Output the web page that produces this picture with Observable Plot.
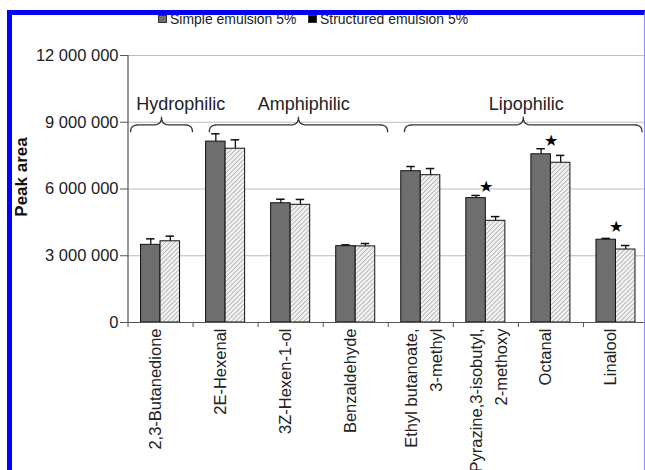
<!DOCTYPE html>
<html>
<head>
<meta charset="utf-8">
<script src="https://cdn.jsdelivr.net/npm/d3@7"></script>
<script src="https://cdn.jsdelivr.net/npm/@observablehq/plot@0.6"></script>
<style>
  html, body { margin: 0; padding: 0; background: #fff; overflow: hidden; }
  #wrap { position: relative; width: 645px; height: 470px; overflow: hidden; font-family: "Liberation Sans", Arial, sans-serif; }
  #legend { position: absolute; top: 10px; left: 0; width: 645px; height: 17px; font-size: 15px; line-height: 17px; color: #222; }
  #legend .sw { position: absolute; top: 5px; width: 9px; height: 8px; }
  #legend .lb { position: absolute; top: 0; white-space: nowrap; transform-origin: 0 0; transform: scaleX(0.93); }
  #frame { position: absolute; left: 7px; top: 10px; width: 632px; height: 480px;
           border-left: 5px solid #0000ff; border-top: 5px solid #0000ff; border-right: 1px solid #8a8aff; }
</style>
</head>
<body>
<div id="wrap">
  <div id="chart"></div>
  <div id="legend"></div>
  <div id="frame"></div>
</div>
<script>
// ---- data ----
const categories = ["2,3-Butanedione", "2E-Hexenal", "3Z-Hexen-1-ol", "Benzaldehyde",
                    "Ethyl butanoate,\n3-methyl", "Pyrazine,3-isobutyl,\n2-methoxy", "Octanal", "Linalool"];
const simpleValues     = [3.49e6, 8.13e6, 5.36e6, 3.43e6, 6.80e6, 5.59e6, 7.56e6, 3.72e6];
const simpleErrors     = [0.27e6, 0.35e6, 0.18e6, 0.06e6, 0.21e6, 0.12e6, 0.25e6, 0.06e6];
const structuredValues = [3.65e6, 7.81e6, 5.29e6, 3.42e6, 6.62e6, 4.57e6, 7.18e6, 3.28e6];
const structuredErrors = [0.23e6, 0.40e6, 0.24e6, 0.13e6, 0.30e6, 0.19e6, 0.33e6, 0.18e6];
const seriesNames = ["Simple emulsion 5%", "Structured emulsion 5%"];
const yTicks = [0, 3e6, 6e6, 9e6, 12e6];
const starCategories = [5, 6, 7];
const starValues = [6.08e6, 8.15e6, 4.28e6];
const groupLabels = ["Hydrophilic", "Amphiphilic", "Lipophilic"];
const groupStart = [0.04, 1.25, 4.25];
const groupEnd = [0.99, 3.99, 7.90];
const groupLabelX = [0.81, 2.70, 6.12];

// ---- layout ----
const W = 645, H = 470;
const xRange = [127.5, 648];
const yRange = [322, 55];
const half = 0.3;            // bar width in category units
const capHalf = 0.065;
const braceLine = 8.88e6, braceTip = 9.23e6, braceEnd = 8.58e6, braceR = 0.12;
const labelY = 9.8e6;

const rows = [];
categories.forEach((c, i) => {
  rows.push({i, s: 0, x1: i + 0.5 - half, x2: i + 0.5, v: simpleValues[i], e: simpleErrors[i]});
  rows.push({i, s: 1, x1: i + 0.5, x2: i + 0.5 + half, v: structuredValues[i], e: structuredErrors[i]});
});
rows.forEach(r => { r.xc = (r.x1 + r.x2) / 2; r.top = r.v + r.e; });

const catRows = categories.map((c, i) => ({c, x: i + 0.5, multi: c.includes("\n")}));

// braces
const bracePts = [];
groupLabels.forEach((g, k) => {
  const x0 = groupStart[k], x1 = groupEnd[k], xm = (x0 + x1) / 2;
  const quad = (p0, c, p1) => {
    for (let j = 0; j <= 10; j++) {
      const t = j / 10;
      bracePts.push({g, x: (1-t)*(1-t)*p0[0] + 2*(1-t)*t*c[0] + t*t*p1[0],
                        y: (1-t)*(1-t)*p0[1] + 2*(1-t)*t*c[1] + t*t*p1[1]});
    }
  };
  quad([x0, braceEnd], [x0, braceLine], [x0 + braceR, braceLine]);
  quad([xm - braceR, braceLine], [xm, braceLine], [xm, braceTip]);
  quad([xm, braceTip], [xm, braceLine], [xm + braceR, braceLine]);
  quad([x1 - braceR, braceLine], [x1, braceLine], [x1, braceEnd]);
});

const font = "Liberation Sans, Arial, sans-serif";
const axisColor = "#555";
const labelStyle = {x: "x", text: "c", frameAnchor: "bottom", dy: 6, rotate: -90, textAnchor: "end",
                    fontSize: 16.5, lineHeight: 1.5, fill: "#222"};

const chart = Plot.plot({
  width: W, height: H,
  marginLeft: 128, marginRight: 0, marginTop: 55, marginBottom: 148,
  style: {fontFamily: font, background: "transparent", color: "#222"},
  x: {type: "linear", domain: [0, 8], range: xRange, axis: null},
  y: {domain: [0, 12e6], range: yRange, axis: null},
  marks: [
    Plot.gridY(yTicks, {stroke: "#bdbdbd", strokeOpacity: 1, strokeWidth: 1}),
    Plot.rectY(rows.filter(r => r.s === 0), {x1: "x1", x2: "x2", y1: 0, y2: "v", fill: "#6e6e6e", stroke: "#111", strokeWidth: 1}),
    Plot.rectY(rows.filter(r => r.s === 1), {x1: "x1", x2: "x2", y1: 0, y2: "v", fill: "url(#hatch)", stroke: "#111", strokeWidth: 1}),
    Plot.ruleX(rows, {x: "xc", y1: "v", y2: "top", stroke: "#111", strokeWidth: 1.3}),
    Plot.ruleY(rows, {y: "top", x1: d => d.xc - capHalf, x2: d => d.xc + capHalf, stroke: "#111", strokeWidth: 1.5}),
    Plot.ruleX([0], {stroke: axisColor, strokeWidth: 1.2}),
    Plot.ruleY([0], {stroke: axisColor, strokeWidth: 1.2}),
    Plot.axisY({ticks: yTicks, tickFormat: d => d3.format(",")(d).replace(/,/g, " "),
                tickSize: 8, tickPadding: 2, fontSize: 16.5, label: null, stroke: axisColor, fill: "#222"}),
    Plot.axisX({ticks: d3.range(0, 9), tickFormat: () => "", tickSize: 5, label: null, stroke: axisColor}),
    Plot.text(catRows.filter(d => !d.multi), {...labelStyle}),
    Plot.text(catRows.filter(d => d.multi), {...labelStyle, dx: 21}),
    Plot.text(["Peak area"], {frameAnchor: "left", dx: -107, dy: -12, rotate: -90, fontSize: 17,
                              textAnchor: "middle", fontWeight: "bold", fill: "#111"}),
    Plot.line(bracePts, {x: "x", y: "y", z: "g", stroke: "#333", strokeWidth: 1.3, curve: "linear"}),
    Plot.text(groupLabels, {x: (d, i) => groupLabelX[i], y: labelY, text: d => d, fontSize: 18, fill: "#222"}),
    Plot.text(starCategories, {x: d => d + 0.5, y: (d, i) => starValues[i], text: () => "★", fontSize: 16, fill: "#000"})
  ]
});

// hatch pattern
const ns = "http://www.w3.org/2000/svg";
const defs = document.createElementNS(ns, "defs");
defs.innerHTML = '<pattern id="hatch" width="3.2" height="3.2" patternUnits="userSpaceOnUse" patternTransform="rotate(45)">' +
  '<rect width="3.2" height="3.2" fill="#f0f0f0"></rect>' +
  '<line x1="0" y1="0" x2="0" y2="3.2" stroke="#8c8c8c" stroke-width="1"></line></pattern>';
chart.insertBefore(defs, chart.firstChild);
document.getElementById("chart").appendChild(chart);

// legend (above the plot, partly under the frame)
const legend = document.getElementById("legend");
const legendColors = ["#6e6e6e", "#000"];
const legendSw = [158, 308];
const legendTx = [170, 320];
seriesNames.forEach((n, k) => {
  const sw = document.createElement("div");
  sw.className = "sw"; sw.style.left = legendSw[k] + "px"; sw.style.background = legendColors[k];
  sw.style.border = "1px solid #333"; sw.style.boxSizing = "border-box";
  const lb = document.createElement("div");
  lb.className = "lb"; lb.style.left = legendTx[k] + "px"; lb.textContent = n;
  legend.appendChild(sw); legend.appendChild(lb);
});
</script>
</body>
</html>
